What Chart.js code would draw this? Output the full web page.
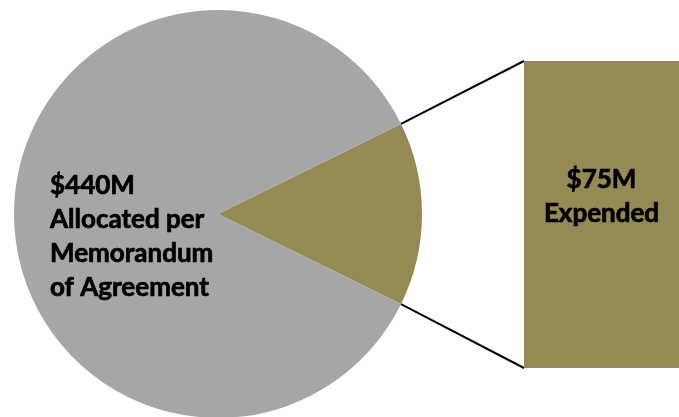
<!DOCTYPE html>
<html>
<head>
<meta charset="utf-8">
<script src="https://cdn.jsdelivr.net/npm/chart.js@4.4.1/dist/chart.umd.min.js"></script>
<style>
  html, body { margin: 0; padding: 0; background: #fff; overflow: hidden; }
  #wrap { position: relative; width: 679px; height: 417px; overflow: hidden; }
  #pieCanvas { position: absolute; left: 0; top: 0; }
  #barCanvas { position: absolute; left: 524px; top: 61px; }
</style>
</head>
<body>
<div id="wrap">
  <canvas id="pieCanvas" width="679" height="420"></canvas>
  <canvas id="barCanvas" width="155" height="307"></canvas>
</div>
<script>
// funds: expended share vs. rest of the allocation
var pieLabels = ["Expended", "Allocated per Memorandum of Agreement"];
var pieValues = [75, 440];
var pieColors = ["#948A54", "#A6A6A6"];

var barLabels = ["Expended"];
var barValues = [75];

var allocText = ["$440M", "Allocated per", "Memorandum", "of Agreement"];
var expText = ["$75M", "Expended"];

var labelFont = "bold 26px Lato, 'Open Sans', sans-serif";

// fill plus a hairline stroke so the labels read heavier
function drawLabel(ctx, text, x, y) {
	ctx.fillText(text, x, y);
	ctx.strokeText(text, x, y);
}

// bar on the right, showing the expended slice broken out
var barLabelPlugin = {
	id: "barLabel",
	afterDatasetsDraw: function(chart) {
		var bar = chart.getDatasetMeta(0).data[0];
		var ctx = chart.ctx;
		ctx.save();
		ctx.font = labelFont;
		ctx.fillStyle = "#000";
		ctx.strokeStyle = "#000";
		ctx.lineWidth = 0.7;
		ctx.textAlign = "center";
		for (var i = 0; i < expText.length; i++) {
			drawLabel(ctx, expText[i], bar.x, bar.y + 127 + i * 34);
		}
		ctx.restore();
	}
};

var barChart = new Chart(document.getElementById("barCanvas"), {
	type: "bar",
	data: {
		labels: barLabels,
		datasets: [{
			data: barValues,
			backgroundColor: pieColors[0],
			borderWidth: 0,
			barPercentage: 1,
			categoryPercentage: 1
		}]
	},
	options: {
		responsive: false,
		animation: false,
		layout: { padding: 0 },
		plugins: { legend: { display: false }, tooltip: { enabled: false } },
		scales: {
			x: { display: false },
			y: { display: false, min: 0, max: 75 }
		}
	},
	plugins: [barLabelPlugin]
});

// pie text and the two connector lines to the bar
var pieExtrasPlugin = {
	id: "pieExtras",
	afterDatasetsDraw: function(chart) {
		var arc = chart.getDatasetMeta(0).data[0];
		var ctx = chart.ctx;
		var r = arc.outerRadius;

		ctx.save();
		ctx.font = labelFont;
		ctx.fillStyle = "#000";
		ctx.strokeStyle = "#000";
		ctx.lineWidth = 0.7;
		ctx.textAlign = "left";
		for (var i = 0; i < allocText.length; i++) {
			drawLabel(ctx, allocText[i], arc.x - 168, arc.y - 20 + i * 34);
		}

		var bar = barChart.getDatasetMeta(0).data[0];
		var cv = barChart.canvas;
		var bx = cv.offsetLeft + bar.x - bar.width / 2;
		var byTop = cv.offsetTop + bar.y;
		var byBot = cv.offsetTop + bar.base;

		ctx.lineWidth = 2;
		ctx.beginPath();
		ctx.moveTo(arc.x + r * Math.cos(arc.startAngle), arc.y + r * Math.sin(arc.startAngle));
		ctx.lineTo(bx, byTop);
		ctx.moveTo(arc.x + r * Math.cos(arc.endAngle), arc.y + r * Math.sin(arc.endAngle));
		ctx.lineTo(bx, byBot);
		ctx.stroke();
		ctx.restore();
	}
};

var total = pieValues[0] + pieValues[1];
var pieChart = new Chart(document.getElementById("pieCanvas"), {
	type: "pie",
	data: {
		labels: pieLabels,
		datasets: [{
			data: pieValues,
			backgroundColor: pieColors,
			borderWidth: 0
		}]
	},
	options: {
		responsive: false,
		animation: false,
		// centre the expended slice on the 3 o'clock direction
		rotation: 90 - (pieValues[0] / total) * 180,
		layout: { padding: { left: 14, top: 10, right: 257, bottom: 2 } },
		plugins: { legend: { display: false }, tooltip: { enabled: false } }
	},
	plugins: [pieExtrasPlugin]
});
</script>
</body>
</html>
